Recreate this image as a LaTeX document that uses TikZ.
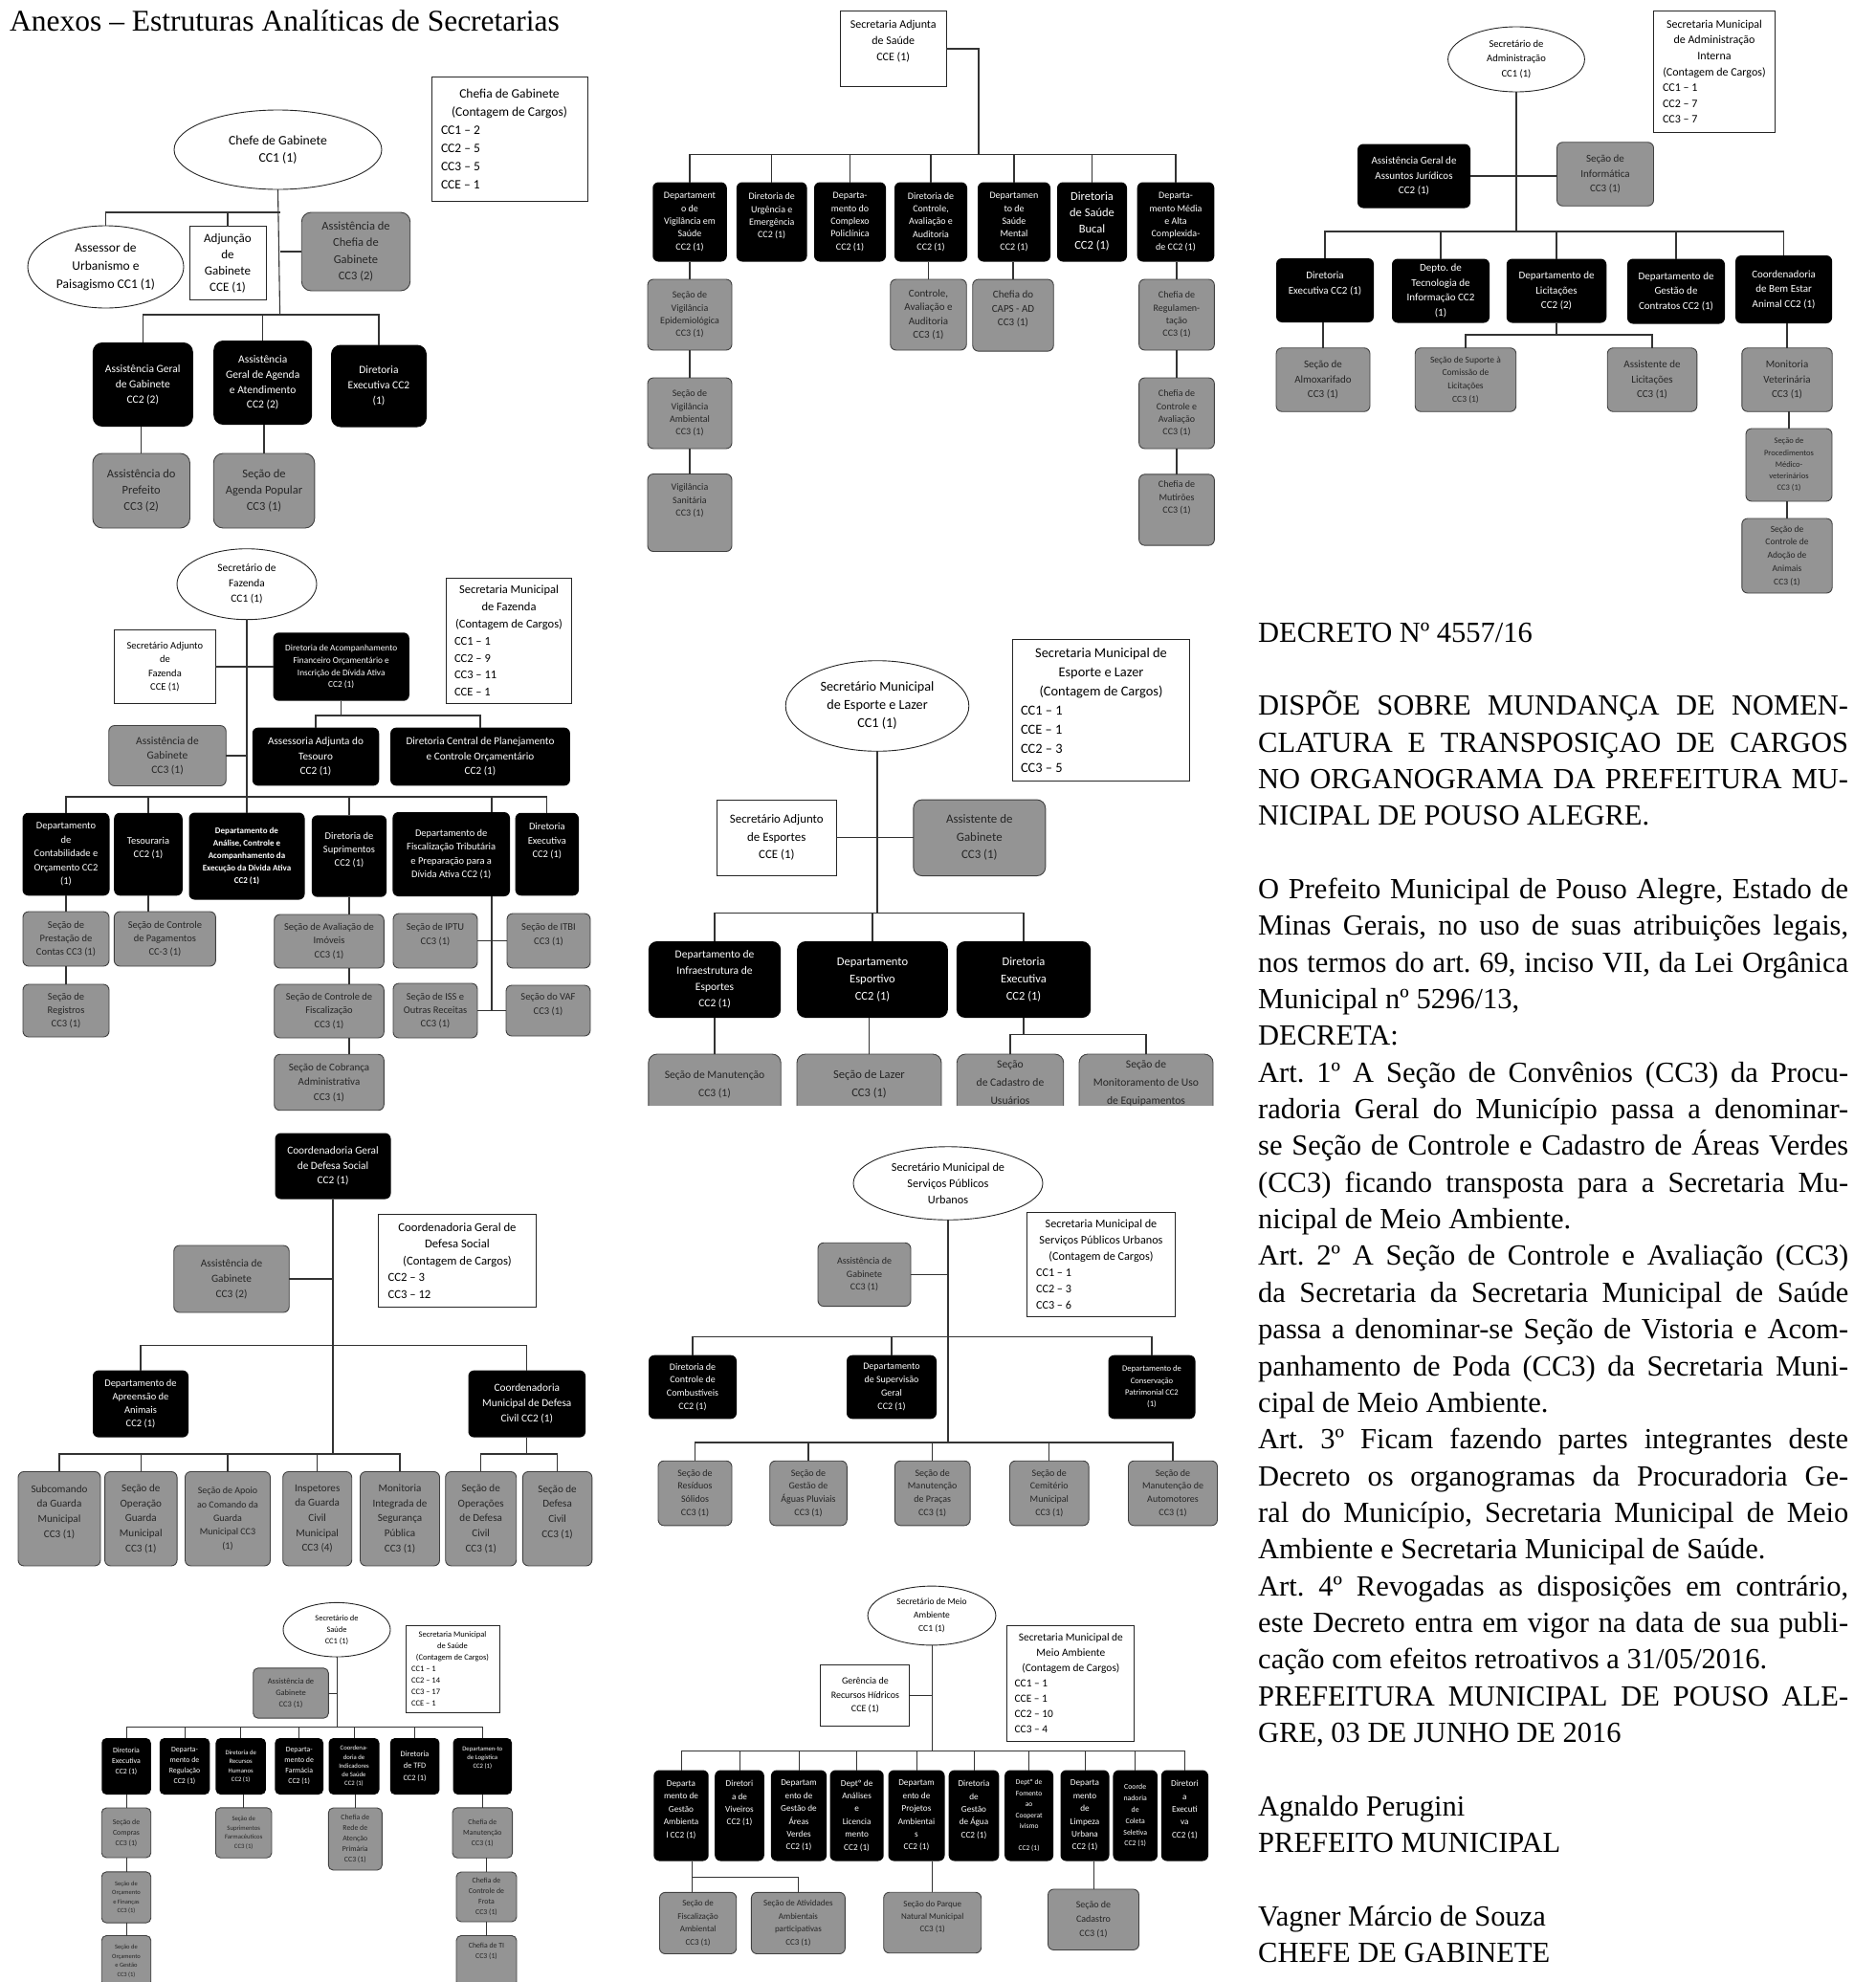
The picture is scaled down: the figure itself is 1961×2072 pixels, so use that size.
\documentclass[tikz,border=0pt]{standalone}
\usepackage{fontspec}
\setmainfont{Liberation Serif}
\newfontfamily\calib{Carlito}
\usetikzlibrary{shapes.geometric}
\frenchspacing

\newcommand{\fz}[2]{\fontsize{#1}{#2}\selectfont}
\newcommand{\lrow}[2]{\makebox[#1pt][l]{#2}}
\newcommand{\jline}[1]{\makebox[617pt][s]{#1}}

\tikzset{
  ln/.style={line width=1.1pt, draw=black!80},
  fs/.style 2 args={font=\calib\fz{#1}{#2}},
  sz/.style 2 args={minimum width=#1, minimum height=#2},
  org/.style={align=center, inner sep=1pt, outer sep=0pt},
  blk/.style={org, rectangle, rounded corners=6pt, fill=black, text=white},
  gry/.style={org, rectangle, rounded corners=6pt, fill=black!42, draw=black!75, line width=0.9pt, text=black!85},
  wht/.style={org, rectangle, draw=black!85, line width=0.9pt, fill=white},
  elp/.style={org, ellipse, draw=black!85, line width=0.9pt, fill=white},
  leg/.style={org, rectangle, draw=black!85, line width=0.9pt, fill=white},
}

\begin{document}
\begin{tikzpicture}[x=1pt, y=-1pt]
\useasboundingbox (0,0) rectangle (1961,2072);
\fill[white] (0,0) rectangle (1961,2072);

\node[anchor=base west, inner sep=0pt, font=\fz{31.5}{38}] (titulo) at (10,32.5) {Anexos – Estruturas Analíticas de Secretarias};

% Chefia de Gabinete
\begin{scope}[every node/.append style={fs={11.5}{15.8}}, blk/.append style={rounded corners=10pt}, gry/.append style={rounded corners=10pt}]
  \node[elp, sz={217}{83}, fs={13.7}{18}] (chefe) at (290.5,156.5) {Chefe de Gabinete\\CC1 (1)};
  \node[leg, sz={163}{130}, fs={13.5}{19}] (legchefia) at (532.5,145) {Chefia de Gabinete\\(Contagem de Cargos)\\\lrow{143}{CC1 – 2}\\\lrow{143}{CC2 – 5}\\\lrow{143}{CC3 – 5}\\\lrow{143}{CCE – 1}};
  \node[elp, sz={163}{86}, fs={13.5}{19}] (assessor) at (110.5,279) {Assessor de\\Urbanismo e\\Paisagismo CC1 (1)};
  \node[wht, sz={80}{77}, fs={13}{17}] (adjuncao) at (238,275) {Adjunção\\de\\Gabinete\\CCE (1)};
  \node[gry, sz={113.5}{82}, fs={12.5}{17.3}] (asschefia) at (372,263) {Assistência de\\Chefia de\\Gabinete\\CC3 (2)};
  \node[blk, sz={105}{88}] (assgab) at (149.3,402) {Assistência Geral\\de Gabinete\\CC2 (2)};
  \node[blk, sz={103}{88}] (assagenda) at (274.7,400) {Assistência\\Geral de Agenda\\e Atendimento\\CC2 (2)};
  \node[blk, sz={100}{86}] (direxec) at (396,403.5) {Diretoria\\Executiva CC2\\(1)};
  \node[gry, sz={101.5}{78}, fs={12.5}{17}] (assprefeito) at (147.7,513) {Assistência do\\Prefeito\\CC3 (2)};
  \node[gry, sz={105.6}{78}, fs={12.5}{17}] (agendapop) at (276,513) {Seção de\\Agenda Popular\\CC3 (1)};
  \coordinate (chefiaA) at (292.6,222);
  \coordinate (chefiaB) at (292.6,329);
  \draw[ln] (chefe.south) -- (chefiaB);
  \draw[ln] (assessor.north) |- (chefiaA);
  \draw[ln] (adjuncao.north) -- (adjuncao.north |- chefiaA);
  \draw[ln] (asschefia.west) -- (asschefia.west -| chefiaA);
  \draw[ln] (assgab.north) |- (chefiaB) -| (direxec.north);
  \draw[ln] (assagenda.north) -- (assagenda.north |- chefiaB);
  \draw[ln] (assprefeito.north) -- (assprefeito.north |- assgab.south);
  \draw[ln] (agendapop.north) -- (agendapop.north |- assagenda.south);
\end{scope}

% Secretaria Adjunta de Saude
\begin{scope}[every node/.append style={fs={10}{13.3}}]
  \node[wht, sz={110.5}{79.6}, fs={12}{17}] (sadjsaude) at (933.7,51) {Secretaria Adjunta\\de Saúde\\CCE (1)\\~};
  \node[blk, sz={77.5}{83}] (vigsaude) at (721,232) {Departament\\o de\\Vigilância em\\Saúde\\CC2 (1)};
  \node[blk, sz={73.7}{83}] (urgencia) at (806.7,232) {Diretoria de\\Urgência e\\Emergência\\CC2 (1)\\~};
  \node[blk, sz={75}{83}] (policlinica) at (888.5,232) {Departa-\\mento do\\Complexo\\Policlínica\\CC2 (1)};
  \node[blk, sz={76}{83}] (controle) at (973,232) {Diretoria de\\Controle,\\Avaliação e\\Auditoria\\CC2 (1)};
  \node[blk, sz={76}{83}] (mental) at (1060,232) {Departamen\\to de\\Saúde\\Mental\\CC2 (1)};
  \node[blk, sz={73}{83}, fs={12.5}{17}] (bucal) at (1141.5,232) {Diretoria\\de Saúde\\Bucal\\CC2 (1)};
  \node[blk, sz={80.6}{83}] (complexidade) at (1229,232) {Departa-\\mento Média\\e Alta\\Complexida-\\de CC2 (1)};
  \node[gry, sz={88}{74}] (epidemio) at (721,329) {Seção de\\Vigilância\\Epidemiológica\\CC3 (1)};
  \node[gry, sz={88}{74}] (ambiental) at (721,432) {Seção de\\Vigilância\\Ambiental\\CC3 (1)};
  \node[gry, sz={88}{81}] (sanitaria) at (721,536) {Vigilância\\Sanitária\\CC3 (1)\\~\\~};
  \node[gry, sz={79.5}{74}, fs={11}{14.4}] (auditoria) at (970.5,329) {Controle,\\Avaliação e\\Auditoria\\CC3 (1)};
  \node[gry, sz={84.5}{75}, fs={11}{14.7}] (caps) at (1059,329.6) {Chefia do\\CAPS - AD\\CC3 (1)\\~};
  \node[gry, sz={78.7}{74}] (regulamentacao) at (1230,329) {Chefia de\\Regulamen-\\tação\\CC3 (1)};
  \node[gry, sz={78.7}{74}] (avaliacao) at (1230,432) {Chefia de\\Controle e\\Avaliação\\CC3 (1)};
  \node[gry, sz={78.7}{74.3}] (mutiroes) at (1230,533) {Chefia de\\Mutirões\\CC3 (1)\\~\\~};
  \coordinate (saudeA) at (1023,161.6);
  \draw[ln] (sadjsaude.east) -| (saudeA);
  \draw[ln] (vigsaude.north) |- (saudeA) -| (complexidade.north);
  \foreach \n in {urgencia,policlinica,controle,mental,bucal}
    \draw[ln] (\n.north) -- (\n.north |- saudeA);
  \draw[ln] (epidemio.north) -- (epidemio.north |- vigsaude.south);
  \draw[ln] (ambiental.north) -- (ambiental.north |- epidemio.south);
  \draw[ln] (sanitaria.north) -- (sanitaria.north |- ambiental.south);
  \draw[ln] (auditoria.north) -- (auditoria.north |- controle.south);
  \draw[ln] (caps.north) -- (caps.north |- mental.south);
  \draw[ln] (regulamentacao.north) -- (regulamentacao.north |- complexidade.south);
  \draw[ln] (avaliacao.north) -- (avaliacao.north |- regulamentacao.south);
  \draw[ln] (mutiroes.north) -- (mutiroes.north |- avaliacao.south);
\end{scope}

% Administracao Interna
\begin{scope}[every node/.append style={fs={11}{15.5}}]
  \node[elp, sz={142.8}{68}, fs={10.6}{15.4}] (secadm) at (1585,62) {Secretário de\\Administração\\CC1 (1)};
  \node[leg, sz={127}{126.5}, fs={12}{16.6}] (legadm) at (1792,75) {Secretaria Municipal\\de Administração\\Interna\\(Contagem de Cargos)\\\lrow{108}{CC1 – 1}\\\lrow{108}{CC2 – 7}\\\lrow{108}{CC3 – 7}};
  \node[blk, sz={118}{67}] (juridico) at (1478,184) {Assistência Geral de\\Assuntos Jurídicos\\CC2 (1)};
  \node[gry, sz={101}{66.5}] (informatica) at (1678,182) {Seção de\\Informática\\CC3 (1)};
  \node[blk, sz={102}{67}] (direxecadm) at (1385,303.5) {Diretoria\\Executiva CC2 (1)\\~};
  \node[blk, sz={102}{67}] (tecinfo) at (1506,304) {Depto. de\\Tecnologia de\\Informação CC2\\(1)};
  \node[blk, sz={104.5}{67}] (licitacoes) at (1627,304) {Departamento de\\Licitações\\CC2 (2)};
  \node[blk, sz={102}{68}] (contratos) at (1752,304.5) {Departamento de\\Gestão de\\Contratos CC2 (1)};
  \node[blk, sz={101}{71}] (bemestar) at (1864.6,302.5) {Coordenadoria\\de Bem Estar\\Animal CC2 (1)};
  \node[gry, sz={98}{66.5}] (almox) at (1383,397) {Seção de\\Almoxarifado\\CC3 (1)};
  \node[gry, sz={105.5}{66.5}, fs={9.5}{13.7}] (suporte) at (1532,397) {Seção de Suporte à\\Comissão de\\Licitações\\CC3 (1)};
  \node[gry, sz={93.6}{66.5}] (assistlic) at (1727,397) {Assistente de\\Licitações\\CC3 (1)};
  \node[gry, sz={94.4}{66.5}] (veterinaria) at (1868,397) {Monitoria\\Veterinária\\CC3 (1)};
  \node[gry, sz={90}{76}, fs={8.5}{12.3}] (procedimentos) at (1870,486) {Seção de\\Procedimentos\\Médico-\\veterinários\\CC3 (1)};
  \node[gry, sz={94.4}{78}, fs={9.5}{13.8}] (adocao) at (1868,581) {Seção de\\Controle de\\Adoção de\\Animais\\CC3 (1)};
  \coordinate (admA) at (1585,242);
  \coordinate (admL) at (1627,350);
  \draw[ln] (secadm.south) -- (admA);
  \draw[ln] (juridico.east) -- (juridico.east -| informatica.west);
  \draw[ln] (direxecadm.north) |- (admA) -| (bemestar.north);
  \foreach \n in {tecinfo,licitacoes,contratos}
    \draw[ln] (\n.north) -- (\n.north |- admA);
  \draw[ln] (almox.north) -- (almox.north |- direxecadm.south);
  \draw[ln] (licitacoes.south) -- (admL);
  \draw[ln] (suporte.north) |- (admL) -| (assistlic.north);
  \draw[ln] (veterinaria.north) -- (veterinaria.north |- bemestar.south);
  \draw[ln] (procedimentos.north) -- (procedimentos.north |- veterinaria.south);
  \draw[ln] (adocao.north) -- (adocao.north |- procedimentos.south);
\end{scope}

% Fazenda
\begin{scope}[every node/.append style={fs={10.5}{14.4}}]
  \node[elp, sz={146}{74}, fs={11.4}{16}] (secfaz) at (258,610.7) {Secretário de\\Fazenda\\CC1 (1)};
  \node[leg, sz={130.5}{131.7}, fs={12.5}{17.8}] (legfaz) at (532,670) {Secretaria Municipal\\de Fazenda\\(Contagem de Cargos)\\\lrow{114}{CC1 – 1}\\\lrow{114}{CC2 – 9}\\\lrow{114}{CC3 – 11}\\\lrow{114}{CCE – 1}};
  \node[wht, sz={106}{77.7}] (adjfaz) at (172.4,697) {Secretário Adjunto\\de\\Fazenda\\CCE (1)};
  \node[blk, sz={142.3}{71.4}, fs={9.3}{12.9}] (acompanha) at (356.7,697) {Diretoria de Acompanhamento\\Financeiro Orçamentário e\\Inscrição de Dívida Ativa\\CC2 (1)};
  \node[blk, sz={132.5}{60.7}, fs={11.2}{15.2}] (tesouro) at (330,791) {Assessoria Adjunta do\\Tesouro\\CC2 (1)};
  \node[blk, sz={187.8}{60.7}, fs={11.2}{15.2}] (planeja) at (502,791) {Diretoria Central de Planejamento\\e Controle Orçamentário\\CC2 (1)};
  \node[gry, sz={122.5}{63}, fs={11.5}{15.2}] (gabfaz) at (175,790) {Assistência de\\Gabinete\\CC3 (1)};
  \node[blk, sz={91}{86.5}] (contab) at (69,893) {Departamento\\de\\Contabilidade e\\Orçamento CC2\\(1)};
  \node[blk, sz={71.6}{86.5}] (tesouraria) at (155,893) {Tesouraria\\CC2 (1)\\~};
  \node[blk, sz={121}{91}, font=\calib\bfseries\fz{9}{12.9}] (analise) at (258,895) {Departamento de\\Análise, Controle e\\Acompanhamento da\\Execução da Dívida Ativa\\CC2 (1)};
  \node[blk, sz={78.3}{85.4}] (suprimentos) at (365,895) {Diretoria de\\Suprimentos\\CC2 (1)\\~};
  \node[blk, sz={122.6}{88}] (fiscalizacao) at (471.7,893) {Departamento de\\Fiscalização Tributária\\e Preparação para a\\Dívida Ativa CC2 (1)};
  \node[blk, sz={66.4}{86.5}] (direxecfaz) at (571.8,893) {Diretoria\\Executiva\\CC2 (1)\\~\\~};
  \node[gry, sz={90}{57}] (prestacao) at (69,981.5) {Seção de\\Prestação de\\Contas CC3 (1)};
  \node[gry, sz={90}{55}] (registros) at (69,1056.5) {Seção de\\Registros\\CC3 (1)};
  \node[gry, sz={106}{57}] (pagamentos) at (172.4,981.5) {Seção de Controle\\de Pagamentos\\CC-3 (1)};
  \node[gry, sz={114.6}{56}] (imoveis) at (344,984) {Seção de Avaliação de\\Imóveis\\CC3 (1)};
  \node[gry, sz={114.6}{56}] (ctrlfisc) at (344,1057) {Seção de Controle de\\Fiscalização\\CC3 (1)};
  \node[gry, sz={114.6}{58.5}, fs={11}{15.5}] (cobranca) at (344,1131.5) {Seção de Cobrança\\Administrativa\\CC3 (1)};
  \node[gry, sz={88}{57}] (iptu) at (455,983.5) {Seção de IPTU\\CC3 (1)\\~};
  \node[gry, sz={87}{57}] (itbi) at (573.5,983.5) {Seção de ITBI\\CC3 (1)\\~};
  \node[gry, sz={88}{57}] (iss) at (455,1056.5) {Seção de ISS e\\Outras Receitas\\CC3 (1)};
  \node[gry, sz={88}{53}] (vaf) at (573,1056.5) {Seção do VAF\\CC3 (1)\\~};
  \coordinate (fazA) at (258,833);
  \coordinate (fazM) at (356.7,748);
  \coordinate (fazV) at (514,1056.5);
  \draw[ln] (secfaz.south) -- (analise.north);
  \draw[ln] (adjfaz.east) -- (adjfaz.east -| acompanha.west);
  \draw[ln] (gabfaz.east) -- (gabfaz.east -| fazA);
  \draw[ln] (acompanha.south) -- (fazM);
  \draw[ln] (tesouro.north) |- (fazM) -| (planeja.north);
  \draw[ln] (contab.north) |- (fazA) -| (direxecfaz.north);
  \foreach \n in {tesouraria,suprimentos}
    \draw[ln] (\n.north) -- (\n.north |- fazA);
  \draw[ln] (fazV |- fiscalizacao.north) -- (fazV |- fazA);
  \draw[ln] (prestacao.north) -- (prestacao.north |- contab.south);
  \draw[ln] (registros.north) -- (registros.north |- prestacao.south);
  \draw[ln] (tesouraria.south) -- (tesouraria.south |- pagamentos.north);
  \draw[ln] (suprimentos.south) -- (suprimentos.south |- imoveis.north);
  \draw[ln] (suprimentos.south |- imoveis.south) -- (suprimentos.south |- ctrlfisc.north);
  \draw[ln] (suprimentos.south |- ctrlfisc.south) -- (suprimentos.south |- cobranca.north);
  \draw[ln] (fazV |- fiscalizacao.south) -- (fazV);
  \draw[ln] (iptu.east) -- (itbi.west);
  \draw[ln] (iss.east) -- (vaf.west);
\end{scope}

% Esporte e Lazer
\begin{scope}[every node/.append style={fs={11.5}{17}}, blk/.append style={rounded corners=9pt}, gry/.append style={rounded corners=9pt}]
  \node[elp, sz={191.6}{94.6}, fs={14.2}{19}] (secesp) at (917,738) {Secretário Municipal\\de Esporte e Lazer\\CC1 (1)};
  \node[leg, sz={185.7}{148}, fs={14.4}{20}] (legesp) at (1151,742.3) {Secretaria Municipal de\\Esporte e Lazer\\(Contagem de Cargos)\\\lrow{168}{CC1 – 1}\\\lrow{168}{CCE – 1}\\\lrow{168}{CC2 – 3}\\\lrow{168}{CC3 – 5}};
  \node[wht, sz={125.3}{79.5}, fs={12.9}{18.4}] (adjesp) at (811.8,875.8) {Secretário Adjunto\\de Esportes\\CCE (1)};
  \node[gry, sz={138}{79.5}, fs={12.9}{18.4}] (assesp) at (1023.8,875.8) {Assistente de\\Gabinete\\CC3 (1)};
  \node[blk, sz={138.4}{80}] (infra) at (747,1024) {Departamento de\\Infraestrutura de\\Esportes\\CC2 (1)};
  \node[blk, sz={157.8}{80}, fs={12.5}{18}] (esportivo) at (912,1024) {Departamento\\Esportivo\\CC2 (1)};
  \node[blk, sz={140.4}{80}, fs={12.5}{18}] (direxecesp) at (1070,1024) {Diretoria\\Executiva\\CC2 (1)};
  \begin{scope}
    \clip (660,1095) rectangle (1280,1155);
    \node[gry, sz={138.4}{80}, fs={11.6}{19}] (manutesp) at (747,1142) {Seção de Manutenção\\CC3 (1)\\~};
    \node[gry, sz={151}{80}, fs={12.5}{19}] (lazer) at (908.5,1142) {Seção de Lazer\\CC3 (1)\\~};
    \node[gry, sz={111.5}{80}, fs={11.6}{19}] (cadastro) at (1056,1142) {Seção\\de Cadastro de\\Usuários\\CC3 (1)};
    \node[gry, sz={140}{80}, fs={11.6}{19}] (monitor) at (1198,1142) {Seção de\\Monitoramento de Uso\\de Equipamentos\\CC3 (1)};
  \end{scope}
  \coordinate (espA) at (917,954.6);
  \coordinate (espE) at (1070,1081.5);
  \draw[ln] (secesp.south) -- (espA);
  \draw[ln] (adjesp.east) -- (assesp.west);
  \draw[ln] (infra.north) |- (espA) -| (direxecesp.north);
  \draw[ln] (esportivo.north) -- (esportivo.north |- espA);
  \draw[ln] (manutesp.north) -- (manutesp.north |- infra.south);
  \draw[ln] (lazer.north) -- (lazer.north |- esportivo.south);
  \draw[ln] (direxecesp.south) -- (espE);
  \draw[ln] (cadastro.north) |- (espE) -| (monitor.north);
\end{scope}

% Defesa Social
\begin{scope}[every node/.append style={fs={11.1}{15.7}}]
  \node[blk, sz={121}{69}, fs={11.3}{15.7}] (coordgeral) at (348,1219) {Coordenadoria Geral\\de Defesa Social\\CC2 (1)};
  \node[leg, sz={165.3}{97}, fs={12.7}{17.4}] (legdef) at (478,1318) {Coordenadoria Geral de\\Defesa Social\\(Contagem de Cargos)\\\lrow{145}{CC2 – 3}\\\lrow{145}{CC3 – 12}};
  \node[gry, sz={120.5}{70}, fs={11.3}{16}] (gabdef) at (242,1337) {Assistência de\\Gabinete\\CC3 (2)};
  \node[blk, sz={100}{70}, fs={10.5}{14.2}] (apreensao) at (147,1467.6) {Departamento de\\Apreensão de\\Animais\\CC2 (1)};
  \node[blk, sz={122.6}{70}, fs={11.3}{16}] (defcivil) at (550.8,1467.6) {Coordenadoria\\Municipal de Defesa\\Civil CC2 (1)};
  \node[gry, sz={86}{98.5}] (subcomando) at (62,1587.7) {Subcomando\\da Guarda\\Municipal\\CC3 (1)\\~};
  \node[gry, sz={75.5}{98.5}] (operacao) at (147.3,1587.7) {Seção de\\Operação\\Guarda\\Municipal\\CC3 (1)};
  \node[gry, sz={89}{98.5}, fs={10}{14.5}] (apoio) at (238,1587.7) {Seção de Apoio\\ao Comando da\\Guarda\\Municipal CC3\\(1)};
  \node[gry, sz={72}{98.5}] (inspetores) at (331.7,1587.7) {Inspetores\\da Guarda\\Civil\\Municipal\\CC3 (4)};
  \node[gry, sz={83}{98.5}] (monitoria) at (418,1587.7) {Monitoria\\Integrada de\\Segurança\\Pública\\CC3 (1)};
  \node[gry, sz={74}{98.5}] (operacoes) at (502.7,1587.7) {Seção de\\Operações\\de Defesa\\Civil\\CC3 (1)};
  \node[gry, sz={72.4}{98.5}] (secdefesa) at (582.6,1587.7) {Seção de\\Defesa\\Civil\\CC3 (1)\\~};
  \coordinate (defA) at (348,1406.5);
  \coordinate (defB) at (348,1520);
  \coordinate (defC) at (550.8,1520);
  \draw[ln] (coordgeral.south) -- (defB);
  \draw[ln] (gabdef.east) -- (gabdef.east -| defA);
  \draw[ln] (apreensao.north) |- (defA) -| (defcivil.north);
  \draw[ln] (subcomando.north) |- (defB) -| (monitoria.north);
  \foreach \n in {operacao,apoio,inspetores}
    \draw[ln] (\n.north) -- (\n.north |- defB);
  \draw[ln] (defcivil.south) -- (defC);
  \draw[ln] (operacoes.north) |- (defC) -| (secdefesa.north);
\end{scope}

% Servicos Publicos Urbanos
\begin{scope}[every node/.append style={fs={10}{13.7}}]
  \node[elp, sz={198}{76.5}, fs={12.3}{16.9}] (secserv) at (991,1237) {Secretário Municipal de\\Serviços Públicos\\Urbanos};
  \node[leg, sz={155}{109.4}, fs={12.2}{17}] (legserv) at (1151,1321.7) {Secretaria Municipal de\\Serviços Públicos Urbanos\\(Contagem de Cargos)\\\lrow{136}{CC1 – 1}\\\lrow{136}{CC2 – 3}\\\lrow{136}{CC3 – 6}};
  \node[gry, sz={97}{66.3}] (gabserv) at (903.5,1332.4) {Assistência de\\Gabinete\\CC3 (1)};
  \node[blk, sz={92}{66.6}] (combust) at (724,1450) {Diretoria de\\Controle de\\Combustíveis\\CC2 (1)};
  \node[blk, sz={94}{66.6}] (supervisao) at (932,1450) {Departamento\\de Supervisão\\Geral\\CC2 (1)};
  \node[blk, sz={91}{66.6}, fs={8.6}{12.3}] (patrimonial) at (1204,1450) {Departamento de\\Conservação\\Patrimonial CC2\\(1)};
  \node[gry, sz={77}{67.6}] (residuos) at (726.5,1561) {Seção de\\Resíduos\\Sólidos\\CC3 (1)};
  \node[gry, sz={80.6}{67.6}] (pluviais) at (845,1561) {Seção de\\Gestão de\\Águas Pluviais\\CC3 (1)};
  \node[gry, sz={78.7}{67.6}] (pracas) at (974.7,1561) {Seção de\\Manutenção\\de Praças\\CC3 (1)};
  \node[gry, sz={82.6}{67.6}] (cemiterio) at (1096.8,1561) {Seção de\\Cemitério\\Municipal\\CC3 (1)};
  \node[gry, sz={93}{67.6}] (automotores) at (1226,1561) {Seção de\\Manutenção de\\Automotores\\CC3 (1)};
  \coordinate (servA) at (991,1397.5);
  \coordinate (servB) at (991,1508);
  \draw[ln] (secserv.south) -- (servB);
  \draw[ln] (gabserv.east) -- (gabserv.east -| servA);
  \draw[ln] (combust.north) |- (servA) -| (patrimonial.north);
  \draw[ln] (supervisao.north) -- (supervisao.north |- servA);
  \draw[ln] (residuos.north) |- (servB) -| (automotores.north);
  \foreach \n in {pluviais,pracas,cemiterio}
    \draw[ln] (\n.north) -- (\n.north |- servB);
\end{scope}

% Saude
\begin{scope}[every node/.append style={fs={7.8}{11}}, blk/.append style={rounded corners=5pt}, gry/.append style={rounded corners=5pt}, ln/.append style={line width=0.8pt}]
  \node[elp, sz={112}{56.7}, fs={8.4}{12}] (secsaude) at (352,1703.7) {Secretário de\\Saúde\\CC1 (1)};
  \node[leg, sz={98}{91.6}, fs={8.5}{12}] (legsaude) at (473,1745) {Secretaria Municipal\\de Saúde\\(Contagem de Cargos)\\\lrow{86}{CC1 – 1}\\\lrow{86}{CC2 – 14}\\\lrow{86}{CC3 – 17}\\\lrow{86}{CCE – 1}};
  \node[gry, sz={78.6}{52.3}, fs={8.5}{11.7}] (gabsaude) at (304,1770) {Assistência de\\Gabinete\\CC3 (1)};
  \node[blk, sz={51.5}{59}] (direxecsau) at (132,1846.5) {Diretoria\\Executiva\\CC2 (1)\\~};
  \node[blk, sz={52.5}{59}] (regulacao) at (193,1846.5) {Departa-\\mento de\\Regulação\\CC2 (1)};
  \node[blk, sz={52.5}{59}, fs={6.7}{9.5}] (rh) at (251.7,1846.5) {Diretoria de\\Recursos\\Humanos\\CC2 (1)};
  \node[blk, sz={50.6}{59}] (farmacia) at (312.7,1846.5) {Departa-\\mento de\\Farmácia\\CC2 (1)};
  \node[blk, sz={53}{59}, fs={6.7}{9.3}] (indicadores) at (370,1846.5) {Coordena-\\doria de\\Indicadores\\de Saúde\\CC2 (1)};
  \node[blk, sz={51.7}{59}, fs={8.3}{12.4}] (tfd) at (433.6,1846.5) {Diretoria\\de TFD\\CC2 (1)};
  \node[blk, sz={61.6}{59}, fs={6.7}{9.3}] (logistica) at (504.3,1846.5) {Departamen-to\\de Logística\\CC2 (1)\\~\\~};
  \node[gry, sz={51.5}{52}] (compras) at (132,1916) {Seção de\\Compras\\CC3 (1)};
  \node[gry, sz={51.5}{53.3}, fs={6.5}{9.5}] (financas) at (132,1983.5) {Seção de\\Orçamento\\e Finanças\\CC3 (1)};
  \node[gry, sz={51.5}{53}, fs={6.5}{9.5}] (gestao) at (132,2050) {Seção de\\Orçamento\\e Gestão\\CC3 (1)};
  \node[gry, sz={58.5}{52.4}, fs={6.7}{9.5}] (farmaceuticos) at (254.7,1916) {Seção de\\Suprimentos\\Farmacêuticos\\CC3 (1)};
  \node[gry, sz={56}{65}] (primaria) at (371.3,1922.5) {Chefia de\\Rede de\\Atenção\\Primária\\CC3 (1)};
  \node[gry, sz={62.6}{52.4}] (manutsaude) at (504.3,1916) {Chefia de\\Manutenção\\CC3 (1)};
  \node[gry, sz={63}{52}] (frota) at (508.5,1983) {Chefia de\\Controle de\\Frota\\CC3 (1)};
  \node[gry, sz={63}{53}] (ti) at (508.5,2050) {Chefia de TI\\CC3 (1)\\~\\~};
  \coordinate (saudeB) at (352,1805.2);
  \draw[ln] (secsaude.south) -- (saudeB);
  \draw[ln] (gabsaude.east) -- (gabsaude.east -| saudeB);
  \draw[ln] (direxecsau.north) |- (saudeB) -| (logistica.north);
  \foreach \n in {regulacao,rh,farmacia,indicadores,tfd}
    \draw[ln] (\n.north) -- (\n.north |- saudeB);
  \draw[ln] (compras.north) -- (compras.north |- direxecsau.south);
  \draw[ln] (financas.north) -- (financas.north |- compras.south);
  \draw[ln] (gestao.north) -- (gestao.north |- financas.south);
  \draw[ln] (farmaceuticos.north) -- (farmaceuticos.north |- rh.south);
  \draw[ln] (primaria.north) -- (primaria.north |- indicadores.south);
  \draw[ln] (manutsaude.north) -- (manutsaude.north |- logistica.south);
  \draw[ln] (frota.north) -- (frota.north |- manutsaude.south);
  \draw[ln] (ti.north) -- (ti.north |- frota.south);
\end{scope}

% Meio Ambiente
\begin{scope}[every node/.append style={fs={9.2}{13.4}}, ln/.append style={line width=0.9pt}]
  \node[elp, sz={133.8}{61.8}, fs={9.5}{14}] (secmeio) at (974,1689) {Secretário de Meio\\Ambiente\\CC1 (1)};
  \node[leg, sz={133}{120.4}, fs={11.4}{16}] (legmeio) at (1119.4,1760) {Secretaria Municipal de\\Meio Ambiente\\(Contagem de Cargos)\\\lrow{117.6}{CC1 – 1}\\\lrow{117.6}{CCE – 1}\\\lrow{117.6}{CC2 – 10}\\\lrow{117.6}{CC3 – 4}};
  \node[wht, sz={93}{63.4}, fs={10}{14.5}] (hidricos) at (904.4,1772.6) {Gerência de\\Recursos Hídricos\\CCE (1)};
  \node[blk, sz={57.4}{95}] (gestamb) at (712,1898) {Departa\\mento de\\Gestão\\Ambienta\\l CC2 (1)\\~};
  \node[blk, sz={51.6}{95}] (viveiros) at (773,1898) {Diretori\\a de\\Viveiros\\CC2 (1)\\~\\~};
  \node[blk, sz={58.2}{95}] (areasverdes) at (835,1898) {Departam\\ento de\\Gestão de\\Áreas\\Verdes\\CC2 (1)};
  \node[blk, sz={56.2}{95}] (licenciamento) at (895.6,1898) {Deptº de\\Análises\\e\\Licencia\\mento\\CC2 (1)};
  \node[blk, sz={59}{95}] (projetos) at (958,1898) {Departam\\ento de\\Projetos\\Ambientai\\s\\CC2 (1)};
  \node[blk, sz={52.7}{95}] (gestagua) at (1018,1898) {Diretoria\\de\\Gestão\\de Água\\CC2 (1)\\~};
  \node[blk, sz={51}{95}, fs={7.5}{11.4}] (fomento) at (1075.6,1898) {Deptº de\\Fomento\\ao\\Cooperat\\ivismo\\~\\CC2 (1)};
  \node[blk, sz={51}{95}] (limpeza) at (1134,1898) {Departa\\mento\\de\\Limpeza\\Urbana\\CC2 (1)};
  \node[blk, sz={46.5}{95}, fs={7.8}{11.9}] (coleta) at (1186.7,1898) {Coorde\\nadoria\\de\\Coleta\\Seletiva\\CC2 (1)};
  \node[blk, sz={49.2}{95}] (direxecmeio) at (1238.4,1898) {Diretori\\a\\Executi\\va\\CC2 (1)\\~};
  \node[gry, sz={80.3}{64.2}, fs={9}{13.4}] (fiscamb) at (729.6,2010.4) {Seção de\\Fiscalização\\Ambiental\\CC3 (1)};
  \node[gry, sz={98}{64.2}, fs={9}{13.4}] (atividades) at (834.4,2010.4) {Seção de Atividades\\Ambientais\\participativas\\CC3 (1)};
  \node[gry, sz={102}{63.5}, fs={9}{13.4}] (parque) at (974.7,2010) {Seção do Parque\\Natural Municipal\\CC3 (1)\\~};
  \node[gry, sz={95}{63.5}, fs={10}{15}] (cadmeio) at (1143,2006.7) {Seção de\\Cadastro\\CC3 (1)};
  \coordinate (meioA) at (974,1771.3);
  \coordinate (meioB) at (974,1830.4);
  \coordinate (meioG) at (723,1962.3);
  \draw[ln] (secmeio.south) -- (meioB);
  \draw[ln] (hidricos.east) -- (hidricos.east -| meioA);
  \draw[ln] (gestamb.north) |- (meioB) -| (direxecmeio.north);
  \foreach \n in {viveiros,areasverdes,licenciamento,projetos,gestagua,fomento,limpeza,coleta}
    \draw[ln] (\n.north) -- (\n.north |- meioB);
  \draw[ln] (meioG |- gestamb.south) -- (meioG |- fiscamb.north);
  \draw[ln] (meioG) -| (atividades.north);
  \draw[ln] (parque.north) -- (parque.north |- projetos.south);
  \draw[ln] (cadmeio.north) -- (cadmeio.north |- limpeza.south);
\end{scope}

% Decreto
\node[anchor=north west, inner sep=0pt, align=left, font=\fz{30.5}{38.35}] (decreto) at (1315,650.5) {%
DECRETO Nº 4557/16\\[38.35pt]
\jline{DISPÕE SOBRE MUNDANÇA DE NOMEN-}\\
\jline{CLATURA E TRANSPOSIÇAO DE CARGOS}\\
\jline{NO ORGANOGRAMA DA PREFEITURA MU-}\\
NICIPAL DE POUSO ALEGRE.\\[38.35pt]
\jline{O Prefeito Municipal de Pouso Alegre, Estado de}\\
\jline{Minas Gerais, no uso de suas atribuições legais,}\\
\jline{nos termos do art. 69, inciso VII, da Lei Orgânica}\\
Municipal nº 5296/13,\\
DECRETA:\\
\jline{Art. 1º A Seção de Convênios (CC3) da Procu-}\\
\jline{radoria Geral do Município passa a denominar-}\\
\jline{se Seção de Controle e Cadastro de Áreas Verdes}\\
\jline{(CC3) ficando transposta para a Secretaria Mu-}\\
nicipal de Meio Ambiente.\\
\jline{Art. 2º A Seção de Controle e Avaliação (CC3)}\\
\jline{da Secretaria da Secretaria Municipal de Saúde}\\
\jline{passa a denominar-se Seção de Vistoria e Acom-}\\
\jline{panhamento de Poda (CC3) da Secretaria Muni-}\\
cipal de Meio Ambiente.\\
\jline{Art. 3º Ficam fazendo partes integrantes deste}\\
\jline{Decreto os organogramas da Procuradoria Ge-}\\
\jline{ral do Município, Secretaria Municipal de Meio}\\
Ambiente e Secretaria Municipal de Saúde.\\
\jline{Art. 4º Revogadas as disposições em contrário,}\\
\jline{este Decreto entra em vigor na data de sua publi-}\\
cação com efeitos retroativos a 31/05/2016.\\
\jline{PREFEITURA MUNICIPAL DE POUSO ALE-}\\
GRE, 03 DE JUNHO DE 2016\\[38.35pt]
Agnaldo Perugini\\
PREFEITO MUNICIPAL\\[38.35pt]
Vagner Márcio de Souza\\
CHEFE DE GABINETE};
\end{tikzpicture}
\end{document}
